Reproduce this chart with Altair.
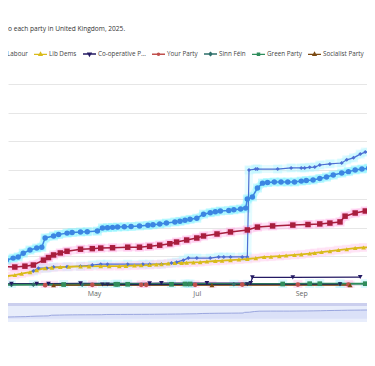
import altair as alt
import pandas as pd

title_text = "o each party in United Kingdom, 2025."

parties = ["Reform UK", "Conservatives", "Labour", "Lib Dems", "Co-operative Party",
           "Your Party", "Sinn Féin", "Green Party", "Socialist Party", "SNP"]
legend_parties = ["Labour", "Lib Dems", "Co-operative Party", "Your Party", "Sinn Féin",
                  "Green Party", "Socialist Party"]
party_colors = ["#3c86e2", "#4d6fd3", "#a81d3d", "#d9bb1a", "#241a63",
                "#c0504d", "#2e6f6a", "#2f8d5c", "#7b4a12", "#1e2a58"]
halo_colors = ["#7ef2ff", "#b5f6ff", "#ffa8e4", "#ffd2ef", "rgba(0,0,0,0)",
               "#ffb5e3", "#a8f3ff", "#a8f3ff", "#ffc2e8", "#b8f3ff"]
marker_shapes = ["circle", "diamond", "square", "triangle-up", "triangle-down",
                 "circle", "diamond", "square", "triangle-up", "triangle-down"]
marker_sizes = [30, 16, 30, 22, 22, 22, 22, 22, 24, 22]
line_widths = [1.5, 1.2, 1.5, 1.8, 1.2, 1.2, 1.2, 1.8, 1.2, 1.2]
glow_parties = ["Reform UK", "Conservatives", "Labour", "Lib Dems"]

legend_path = {
    "circle": "M-1,0H1M0.17,0A0.17,0.17,0,1,1,-0.17,0A0.17,0.17,0,1,1,0.17,0Z",
    "diamond": "M-1,0H1M0,-0.24L0.24,0L0,0.24L-0.24,0Z",
    "square": "M-1,0H1M-0.16,-0.16H0.16V0.16H-0.16Z",
    "triangle-up": "M-1,0H1M0,-0.26L0.22,0.14H-0.22Z",
    "triangle-down": "M-1,0H1M0,0.26L0.22,-0.14H-0.22Z",
}

# cumulative donations, £ million
reform = [("2025-03-06", 0.80), ("2025-03-10", 0.87), ("2025-03-14", 0.94), ("2025-03-17", 0.98),
          ("2025-03-20", 1.11), ("2025-03-24", 1.22), ("2025-03-28", 1.29), ("2025-03-31", 1.32),
          ("2025-04-02", 1.64), ("2025-04-07", 1.71), ("2025-04-10", 1.76), ("2025-04-15", 1.81),
          ("2025-04-18", 1.83), ("2025-04-23", 1.85), ("2025-04-27", 1.86), ("2025-05-03", 1.88),
          ("2025-05-06", 1.99), ("2025-05-09", 2.00), ("2025-05-12", 2.01), ("2025-05-15", 2.02),
          ("2025-05-19", 2.03), ("2025-05-23", 2.04), ("2025-05-28", 2.06), ("2025-06-02", 2.08),
          ("2025-06-05", 2.10), ("2025-06-09", 2.13), ("2025-06-13", 2.16), ("2025-06-18", 2.20),
          ("2025-06-21", 2.22), ("2025-06-24", 2.26), ("2025-06-27", 2.29), ("2025-07-01", 2.33),
          ("2025-07-05", 2.47), ("2025-07-09", 2.52), ("2025-07-12", 2.55), ("2025-07-15", 2.58),
          ("2025-07-20", 2.60), ("2025-07-23", 2.62), ("2025-07-27", 2.65), ("2025-07-30", 2.68),
          ("2025-07-31", 3.00), ("2025-08-03", 3.07), ("2025-08-06", 3.38), ("2025-08-09", 3.55),
          ("2025-08-12", 3.57), ("2025-08-16", 3.59), ("2025-08-20", 3.59), ("2025-08-24", 3.59),
          ("2025-08-28", 3.59), ("2025-09-01", 3.62), ("2025-09-04", 3.64), ("2025-09-08", 3.66),
          ("2025-09-12", 3.71), ("2025-09-16", 3.76), ("2025-09-20", 3.83), ("2025-09-25", 3.90),
          ("2025-09-29", 3.95), ("2025-10-03", 4.01), ("2025-10-07", 4.04), ("2025-10-11", 4.07),
          ("2025-10-15", 4.11)]
conservatives = [("2025-03-26", 0.49), ("2025-03-29", 0.59), ("2025-04-03", 0.59), ("2025-04-07", 0.63),
                 ("2025-04-15", 0.64), ("2025-04-23", 0.66), ("2025-04-30", 0.70), ("2025-05-05", 0.73),
                 ("2025-05-09", 0.73), ("2025-05-21", 0.73), ("2025-05-30", 0.73), ("2025-06-03", 0.73),
                 ("2025-06-10", 0.73), ("2025-06-16", 0.77), ("2025-06-19", 0.80), ("2025-06-23", 0.87),
                 ("2025-06-26", 0.94), ("2025-07-01", 0.94), ("2025-07-09", 0.94), ("2025-07-14", 0.98),
                 ("2025-07-17", 0.98), ("2025-07-21", 0.98), ("2025-07-28", 0.98), ("2025-07-31", 0.98),
                 ("2025-08-01", 4.01), ("2025-08-05", 4.04), ("2025-08-06", 4.04), ("2025-08-18", 4.04),
                 ("2025-08-26", 4.08), ("2025-09-01", 4.08), ("2025-09-03", 4.08), ("2025-09-06", 4.10),
                 ("2025-09-09", 4.11), ("2025-09-12", 4.18), ("2025-09-18", 4.22), ("2025-09-25", 4.25),
                 ("2025-09-28", 4.36), ("2025-10-02", 4.43), ("2025-10-06", 4.56), ("2025-10-09", 4.63),
                 ("2025-10-15", 4.67)]
labour = [("2025-03-06", 0.66), ("2025-03-15", 0.63), ("2025-03-21", 0.66), ("2025-03-26", 0.70),
          ("2025-04-01", 0.87), ("2025-04-04", 0.96), ("2025-04-07", 1.05), ("2025-04-11", 1.12),
          ("2025-04-15", 1.18), ("2025-04-23", 1.25), ("2025-04-30", 1.27), ("2025-05-05", 1.29),
          ("2025-05-12", 1.30), ("2025-05-21", 1.32), ("2025-05-28", 1.32), ("2025-06-03", 1.35),
          ("2025-06-09", 1.39), ("2025-06-15", 1.44), ("2025-06-19", 1.50), ("2025-06-25", 1.57),
          ("2025-07-01", 1.64), ("2025-07-05", 1.71), ("2025-07-13", 1.78), ("2025-07-21", 1.85),
          ("2025-07-31", 1.92), ("2025-08-06", 2.02), ("2025-08-15", 2.06), ("2025-08-27", 2.09),
          ("2025-09-05", 2.11), ("2025-09-12", 2.13), ("2025-09-18", 2.16), ("2025-09-24", 2.20),
          ("2025-09-27", 2.40), ("2025-10-03", 2.51), ("2025-10-09", 2.58), ("2025-10-15", 2.65)]
libdems = [("2025-03-06", 0.28), ("2025-03-10", 0.31), ("2025-03-15", 0.35), ("2025-03-19", 0.40),
           ("2025-03-24", 0.45), ("2025-03-28", 0.52), ("2025-04-02", 0.59), ("2025-04-06", 0.61),
           ("2025-04-11", 0.63), ("2025-04-16", 0.64), ("2025-04-23", 0.65), ("2025-04-28", 0.65),
           ("2025-05-05", 0.66), ("2025-05-10", 0.66), ("2025-05-16", 0.66), ("2025-05-20", 0.67),
           ("2025-05-25", 0.68), ("2025-05-29", 0.69), ("2025-06-03", 0.70), ("2025-06-07", 0.72),
           ("2025-06-10", 0.73), ("2025-06-14", 0.75), ("2025-06-18", 0.77), ("2025-06-22", 0.77),
           ("2025-06-25", 0.78), ("2025-06-29", 0.79), ("2025-07-03", 0.80), ("2025-07-07", 0.82),
           ("2025-07-12", 0.84), ("2025-07-16", 0.85), ("2025-07-21", 0.87), ("2025-07-26", 0.89),
           ("2025-07-31", 0.91), ("2025-08-05", 0.94), ("2025-08-10", 0.98), ("2025-08-14", 0.99),
           ("2025-08-19", 1.01), ("2025-08-23", 1.03), ("2025-08-28", 1.05), ("2025-09-01", 1.07),
           ("2025-09-06", 1.10), ("2025-09-09", 1.12), ("2025-09-13", 1.15), ("2025-09-18", 1.18),
           ("2025-09-23", 1.22), ("2025-09-28", 1.25), ("2025-10-03", 1.29), ("2025-10-08", 1.31),
           ("2025-10-15", 1.32)]
coop = [("2025-03-06", 0.04), ("2025-03-13", 0.05), ("2025-03-28", 0.05), ("2025-04-04", 0.05),
        ("2025-04-23", 0.06), ("2025-06-03", 0.06), ("2025-06-10", 0.07), ("2025-07-07", 0.07),
        ("2025-08-02", 0.07), ("2025-08-03", 0.27), ("2025-08-27", 0.27), ("2025-10-06", 0.28)]
yourparty = [("2025-04-02", 0.00), ("2025-04-30", 0.01), ("2025-05-29", 0.01), ("2025-06-01", 0.01),
             ("2025-06-30", 0.01), ("2025-07-28", 0.02), ("2025-08-30", 0.02), ("2025-09-29", 0.02)]
sinnfein = [("2025-03-06", 0.01), ("2025-03-13", 0.01), ("2025-03-26", 0.02), ("2025-04-24", 0.02),
            ("2025-06-26", 0.03), ("2025-07-23", 0.03), ("2025-09-24", 0.04), ("2025-10-15", 0.04)]
green = [("2025-03-06", 0.02), ("2025-04-13", 0.02), ("2025-05-14", 0.03), ("2025-05-15", 0.03),
         ("2025-05-21", 0.03), ("2025-06-16", 0.03), ("2025-06-24", 0.04), ("2025-06-27", 0.04),
         ("2025-08-21", 0.04), ("2025-09-06", 0.05), ("2025-09-12", 0.05), ("2025-10-09", 0.05)]
socialist = [("2025-04-07", 0.00), ("2025-07-10", 0.00), ("2025-09-30", 0.00)]
snp = [("2025-05-06", 0.02), ("2025-05-09", 0.02), ("2025-07-31", 0.03), ("2025-09-24", 0.03)]

series = [reform, conservatives, labour, libdems, coop, yourparty, sinnfein, green, socialist, snp]

rows = []
for i, p in enumerate(parties):
    for d, v in series[i]:
        rows.append({"party": p, "date": d, "value": v, "shape": marker_shapes[i],
                     "size": marker_sizes[i], "halo": halo_colors[i], "sw": line_widths[i]})
df = pd.DataFrame(rows)

reform_df = pd.DataFrame({"date": [d for d, _ in reform], "value": [v for _, v in reform]})
legend_df = pd.DataFrame({"party": parties, "px": [5.0] * len(parties), "py": [0.5] * len(parties)})

FONT = "Open Sans"

x_scale = alt.Scale(type="utc", domain=[alt.DateTime(year=2025, month=3, date=10, hours=23, utc=True),
                                         alt.DateTime(year=2025, month=10, date=10, minutes=30, utc=True)])
x_axis = alt.Axis(format="%b", tickCount=alt.TimeIntervalStep(interval="month", step=2),
                  labelFont=FONT, labelFontSize=7, labelColor="#666666", ticks=False,
                  domain=False, grid=False, labelPadding=1, title=None, labelFlush=False,
                  labelOverlap=False)
X = alt.X("date:T", scale=x_scale, axis=x_axis)
Y = alt.Y("value:Q", scale=alt.Scale(domain=[-0.1, 7], nice=False, zero=False),
          axis=alt.Axis(values=[0, 1, 2, 3, 4, 5, 6, 7], grid=True, gridColor="#e6e6e6",
                        gridWidth=1, labels=False, ticks=False, domain=False, title=None))
color_scale = alt.Scale(domain=parties, range=party_colors)
color = alt.Color("party:N", scale=color_scale, legend=None)

base = alt.Chart(df)

glow = base.transform_filter(
    alt.FieldOneOfPredicate(field="party", oneOf=glow_parties)
).mark_line(strokeWidth=8, opacity=0.35, clip=True).encode(
    x=X, y=Y, color=alt.Color("halo:N", scale=None), detail="party:N")

halos = base.mark_point(shape="square", filled=True, size=80, opacity=0.4, clip=True,
                        strokeWidth=0).encode(
    x=X, y=Y, color=alt.Color("halo:N", scale=None))

lines = base.mark_line(clip=True).encode(
    x=X, y=Y, color=color, strokeWidth=alt.StrokeWidth("sw:Q", scale=None))

point_layers = []
for s in ["circle", "diamond", "square", "triangle-up", "triangle-down"]:
    point_layers.append(
        base.transform_filter(alt.datum.shape == s).mark_point(
            shape=s, filled=True, opacity=1, clip=True, strokeWidth=0).encode(
            x=X, y=Y, color=color, size=alt.Size("size:Q", scale=None)))

title_layer = alt.Chart(pd.DataFrame({"t": [title_text]})).mark_text(
    align="left", baseline="middle", font=FONT, fontSize=6.6, color="#333333").encode(
    text="t:N", x=alt.value(0), y=alt.value(-55))

main = alt.layer(glow, halos, lines, *point_layers, title_layer)

legend_spec = alt.Legend(orient="none", legendX=-17, legendY=-37.5, values=legend_parties,
                         direction="horizontal", columns=len(legend_parties),
                         columnPadding=3, labelOffset=1, symbolSize=169,
                         symbolStrokeWidth=1.4, symbolOpacity=1,
                         labelFont=FONT, labelFontSize=6.3, labelColor="#444444",
                         labelLimit=50, title=None, padding=0, rowPadding=0)

legend_layer = alt.Chart(legend_df).mark_point(filled=False, opacity=1, clip=True, size=169,
                                                strokeWidth=1.4).encode(
    x=alt.X("px:Q", scale=alt.Scale(domain=[0, 1]), axis=None),
    y=alt.Y("py:Q", scale=alt.Scale(domain=[0, 1]), axis=None),
    color=alt.Color("party:N", scale=alt.Scale(domain=parties, range=party_colors), legend=legend_spec),
    shape=alt.Shape("party:N",
                    scale=alt.Scale(domain=parties, range=[legend_path[s] for s in marker_shapes]),
                    legend=legend_spec))

one = pd.DataFrame({"k": [0]})
nav_band = alt.Chart(one).mark_rect(color="#cbcfee").encode(
    x=alt.value(0), x2=alt.value(359), y=alt.value(219), y2=alt.value(222))
nav_body = alt.Chart(one).mark_rect(color="#e8edfb").encode(
    x=alt.value(0), x2=alt.value(359), y=alt.value(222), y2=alt.value(238))
nav_area = alt.Chart(reform_df).mark_area(
    color="#d5dcf6", line={"color": "#9aa6df", "strokeWidth": 1}).encode(
    x=alt.X("date:T", scale=alt.Scale(type="utc"), axis=None),
    y=alt.Y("value:Q", scale=alt.Scale(domain=[0, 4.11], range=[234.7, 226], nice=False, zero=False),
            axis=None),
    y2=alt.value(238))
nav = alt.layer(nav_band, nav_body, nav_area)

chart = alt.layer(nav, main, legend_layer).resolve_scale(
    x="independent", y="independent", color="independent", shape="independent"
).properties(
    width=359, height=204,
    autosize=alt.AutoSizeParams(type="none"),
    padding={"left": 0, "top": 76, "right": 0, "bottom": 66},
    background="white",
).configure_view(strokeWidth=0)

chart.save("out.html", embed_options={"renderer": "svg", "actions": False})
